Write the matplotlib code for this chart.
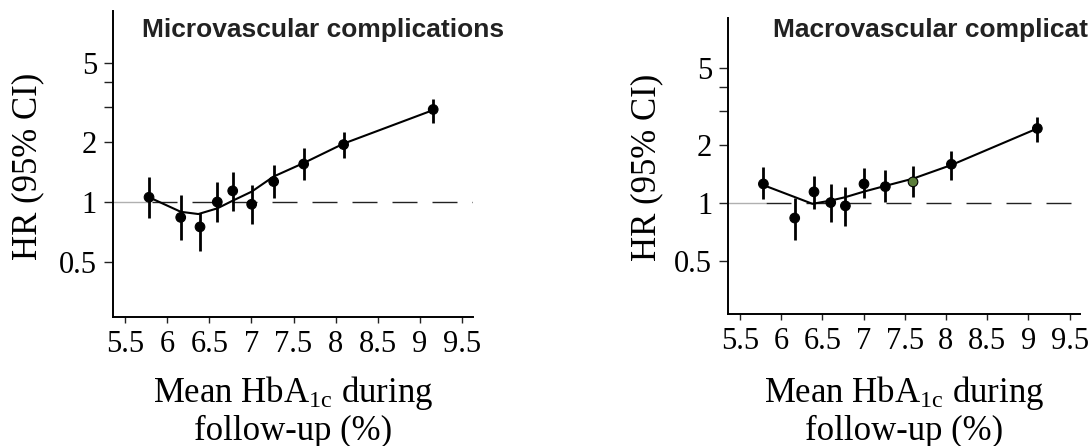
import numpy as np
import matplotlib
matplotlib.use('Agg')
import matplotlib.pyplot as plt
from matplotlib.ticker import NullLocator

plt.rcParams['font.family'] = 'Liberation Serif'
plt.rcParams['mathtext.fontset'] = 'custom'
plt.rcParams['mathtext.rm'] = 'Liberation Serif'
plt.rcParams['mathtext.it'] = 'Liberation Serif:italic'

# Microvascular complications: HR by mean HbA1c category
micro_x = [5.785, 6.161, 6.39, 6.595, 6.778, 7.003, 7.264, 7.62, 8.094, 9.157]
micro_hr = [1.056, 0.837, 0.750, 1.000, 1.137, 0.974, 1.266, 1.55, 1.94, 2.91]
micro_lo = [0.833, 0.643, 0.566, 0.790, 0.901, 0.780, 1.044, 1.291, 1.662, 2.50]
micro_hi = [1.342, 1.085, 0.877, 1.266, 1.406, 1.214, 1.538, 1.858, 2.25, 3.30]
micro_fit_x = [5.785, 6.161, 6.37, 6.595, 6.778, 7.003, 7.264, 7.62, 8.094, 9.157]
micro_fit_hr = [1.056, 0.893, 0.870, 0.929, 1.015, 1.127, 1.342, 1.568, 1.962, 2.89]

# Macrovascular complications
macro_x = [5.784, 6.164, 6.398, 6.601, 6.779, 7.005, 7.264, 7.60, 8.066, 9.109]
macro_hr = [1.258, 0.837, 1.144, 1.007, 0.968, 1.258, 1.218, 1.289, 1.591, 2.44]
macro_lo = [1.049, 0.646, 0.931, 0.794, 0.757, 1.061, 1.019, 1.082, 1.319, 2.08]
macro_hi = [1.535, 1.061, 1.389, 1.258, 1.21, 1.516, 1.486, 1.559, 1.862, 2.80]
macro_fit_x = [5.784, 6.379, 6.601, 6.779, 7.005, 7.264, 7.60, 8.066, 9.109]
macro_fit_hr = [1.24, 0.992, 1.031, 1.074, 1.148, 1.229, 1.340, 1.577, 2.44]
macro_ref = 7  # reference category, drawn in green

xticks = [5.5, 6, 6.5, 7, 7.5, 8, 8.5, 9, 9.5]
xtick_labels = ['5.5', '6', '6.5', '7', '7.5', '8', '8.5', '9', '9.5']
yticks = [0.5, 1, 2, 3, 4, 5]
ytick_labels = ['0.5', '1', '2', '', '', '5']

W, H = 1088, 446
fig = plt.figure(figsize=(W / 100, H / 100), dpi=100)
ax1 = fig.add_axes([0.1039, 0.2892, 0.3309, 0.6868])
ax2 = fig.add_axes([0.6694, 0.2953, 0.3235, 0.6637])


def draw(ax, x, hr, lo, hi, fx, fhr, title, title_x, title_y, ref=None):
    x = np.array(x); hr = np.array(hr)
    lo = np.array(lo); hi = np.array(hi)
    xmin, xmax = 5.358, 9.63
    # reference line at HR = 1
    ax.plot([xmin, 5.8], [1, 1], color='#b0b0b0', lw=1.0, zorder=1)
    ax.plot([5.816, xmax], [1, 1], color='#222222', lw=1.0,
            dashes=(18, 10.8), zorder=1)
    ax.plot(fx, fhr, color='black', lw=1.5, zorder=2)
    ax.vlines(x, lo, hi, color='black', lw=2.0, zorder=3)
    colors = ['black'] * len(x)
    if ref is not None:
        colors[ref] = '#5b7d3a'
    ax.scatter(x, hr, s=48, c=colors, edgecolors='black', linewidths=0.8,
               zorder=4)
    ax.set_yscale('log')
    ax.set_xlim(xmin, xmax)
    ax.set_ylim(0.265, 9.1)
    ax.set_xticks(xticks)
    ax.set_xticklabels(xtick_labels)
    ax.set_yticks(yticks)
    ax.set_yticklabels(ytick_labels)
    ax.yaxis.set_minor_locator(NullLocator())
    ax.tick_params(axis='both', labelsize=22, width=1.0, color='#222222')
    ax.tick_params(axis='y', length=6.5, pad=5)
    ax.tick_params(axis='x', length=4.5, pad=5)
    for side in ['top', 'right']:
        ax.spines[side].set_visible(False)
    for side in ['left', 'bottom']:
        ax.spines[side].set_linewidth(1.4)
    ax.text(title_x, title_y, title, transform=ax.transAxes,
            family='Liberation Sans', weight='bold', fontsize=19,
            color='#222222', ha='left', va='baseline')


draw(ax1, micro_x, micro_hr, micro_lo, micro_hi, micro_fit_x, micro_fit_hr,
     'Microvascular complications', 0.08, 0.914)
draw(ax2, macro_x, macro_hr, macro_lo, macro_hi, macro_fit_x, macro_fit_hr,
     'Macrovascular complications', 0.126, 0.937, ref=macro_ref)

# axis titles
for cx in [293, 904]:
    fig.text(cx / W, 1 - 401.7 / H, 'Mean HbA$_{\\mathregular{1c}}$ during',
             fontsize=25, ha='center', va='baseline')
    fig.text(cx / W, 1 - 440 / H, 'follow-up (%)',
             fontsize=25, ha='center', va='baseline')
for cx, cy in [(28, 166.5), (646.7, 167.5)]:
    fig.text(cx / W, 1 - cy / H, 'HR (95% CI)', rotation=90,
             fontsize=25, ha='center', va='center')

fig.savefig('out.png', dpi=100)
